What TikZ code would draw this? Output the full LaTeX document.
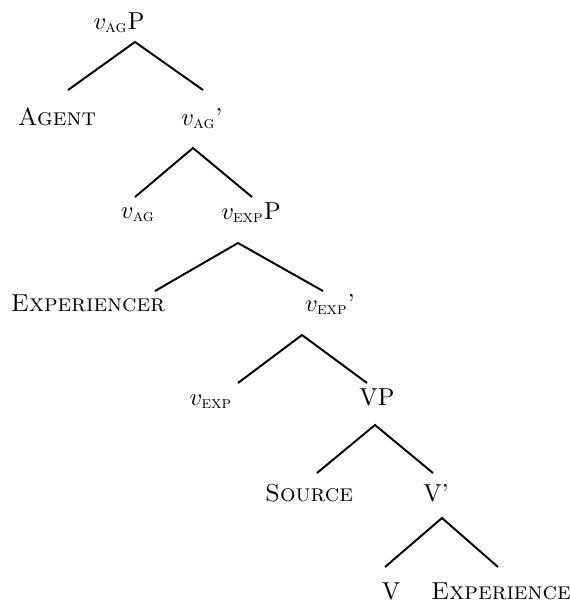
\documentclass[tikz,border=0pt]{standalone}
\usepackage{amsmath}
\begin{document}
\begin{tikzpicture}
      [
      x=0.4082pt, y=-0.4082pt,
      word/.style={anchor=base,inner sep=0pt},
      branch/.style={line width=0.8pt}
      ]
      \useasboundingbox (0,0) rectangle (569,605);
      \node (vagP) at (119,29) [word] {$v_{\textsc{ag}}$P};
      \node (agent) at (57,125) [word] {\textsc{Agent}};
      \node (vagbar) at (202,125) [word] {$v_{\textsc{ag}}$'};
      \node (vag) at (138,218) [word] {$v_{\textsc{ag}}$};
      \node (vexpP) at (251,219) [word] {$v_{\textsc{exp}}$P};
      \node (exper) at (88,311) [word] {\textsc{Experiencer}};
      \node (vexpbar) at (330,311) [word] {$v_{\textsc{exp}}$'};
      \node (vexp) at (211,405) [word] {$v_{\textsc{exp}}$};
      \node (vp) at (377,405) [word] {VP};
      \node (source) at (309,501) [word] {\textsc{Source}};
      \node (vbar) at (436,501) [word] {V'};
      \node (v) at (391,599) [word] {V};
      \node (experience) at (501,599) [word] {\textsc{Experience}};

      \draw [branch] ([shift={(11,-35)}]agent.base) to ([shift={(16,13)}]vagP.base) to ([shift={(1,-35)}]vagbar.base);
      \draw [branch] ([shift={(-3,-21)}]vag.base) to ([shift={(-9,23)}]vagbar.base) to ([shift={(1,-22)}]vexpP.base);
      \draw [branch] ([shift={(67,-20)}]exper.base) to ([shift={(-13,24)}]vexpP.base) to ([shift={(-7,-20)}]vexpbar.base);
      \draw [branch] ([shift={(27,-22)}]vexp.base) to ([shift={(-28,24)}]vexpbar.base) to ([shift={(-10,-22)}]vp.base);
      \draw [branch] ([shift={(8,-28)}]source.base) to ([shift={(-2,20)}]vp.base) to ([shift={(-3,-28)}]vbar.base);
      \draw [branch] ([shift={(-6,-32)}]v.base) to ([shift={(6,17)}]vbar.base) to ([shift={(-3,-32)}]experience.base);
    \end{tikzpicture}
\end{document}
